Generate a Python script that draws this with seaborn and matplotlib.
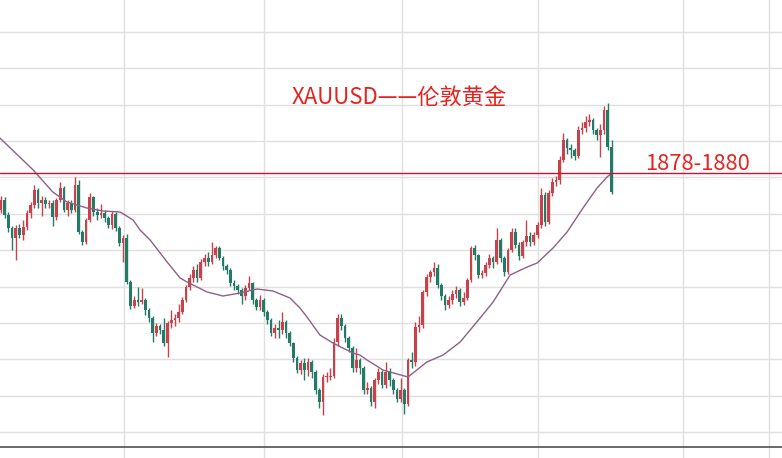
import numpy as np
import pandas as pd
import matplotlib
matplotlib.use("Agg")
import matplotlib.pyplot as plt
import seaborn as sns

# XAUUSD candles (price units)
first_open = 1861
closes = [1866, 1858.5, 1852, 1847, 1852, 1848.5, 1852.5, 1859.5, 1863.5, 1871,
          1864.5, 1866, 1864, 1864.5, 1857.5, 1866, 1872, 1861, 1864.5, 1861,
          1873.5, 1850, 1845, 1856, 1867.5, 1860, 1858.5, 1859.5, 1857, 1853.5,
          1859, 1852, 1844.5, 1847, 1825, 1813, 1816, 1815, 1816, 1811,
          1807, 1799.5, 1803, 1801, 1794.5, 1804.5, 1806, 1807, 1810, 1816,
          1822.5, 1827, 1831, 1827, 1835, 1837, 1835, 1838.5, 1842, 1837,
          1833, 1831, 1824.5, 1823, 1821, 1818, 1822, 1824.5, 1816, 1812.5,
          1816, 1810, 1806, 1799.5, 1802, 1801, 1805, 1799.5, 1794.5, 1787,
          1781, 1784.5, 1781, 1785, 1780, 1771, 1765, 1777.5, 1777.5, 1778,
          1795, 1807, 1803, 1797, 1792, 1782, 1786, 1782, 1771, 1772,
          1765, 1776, 1780, 1773.5, 1780, 1776, 1771, 1766.5, 1771, 1764,
          1786, 1785, 1802.5, 1803.5, 1820, 1827.5, 1830, 1832, 1823.5, 1818,
          1813.5, 1816, 1819, 1821, 1815, 1817, 1826, 1842, 1838.5, 1828.5,
          1829.5, 1833.5, 1837, 1835, 1846, 1837, 1830, 1841, 1850, 1843.5,
          1838, 1845, 1848, 1845, 1848.5, 1853.5, 1868.5, 1855, 1869.5, 1875,
          1876, 1886, 1896, 1892, 1891, 1888, 1901, 1902, 1905, 1906,
          1901, 1898.5, 1901, 1911, 1892.5, 1870]
highs = [1868, 1867.5, 1860, 1853, 1853.5, 1854, 1856, 1861, 1865, 1873.5,
         1872, 1868, 1867.5, 1866, 1866, 1867, 1875, 1873, 1866, 1866,
         1877.5, 1876, 1851, 1857, 1869.5, 1868, 1862, 1864, 1861, 1858,
         1860.5, 1860, 1853, 1848.5, 1849, 1826, 1818, 1822.5, 1822, 1817,
         1812, 1808, 1804.5, 1804, 1807, 1805.5, 1811, 1809, 1814, 1817.5,
         1823.5, 1829, 1833, 1834, 1836.5, 1839, 1840, 1845, 1843, 1843,
         1838, 1834, 1832, 1826, 1824, 1822, 1823.5, 1828, 1825, 1817,
         1818.5, 1817, 1811, 1807, 1804, 1806, 1810, 1806, 1800.5, 1795,
         1788, 1786, 1787, 1787, 1786, 1781, 1772, 1779, 1780, 1782,
         1797, 1809, 1809, 1804, 1798, 1793, 1792, 1787, 1783, 1775,
         1773, 1777, 1782, 1781, 1785, 1782, 1777, 1772, 1777, 1772,
         1787, 1790, 1805, 1808, 1821, 1829, 1831, 1835, 1834, 1824.5,
         1819, 1818, 1821, 1823, 1822, 1820, 1827, 1843, 1843.5, 1839,
         1831, 1835, 1839, 1838, 1852, 1847, 1838, 1842, 1852, 1852,
         1845, 1846, 1856, 1850, 1850, 1855, 1872, 1870, 1871, 1877,
         1878, 1888, 1899.5, 1897, 1894, 1892, 1903, 1905, 1908, 1909,
         1907, 1902, 1904, 1913, 1914.5, 1896]
lows = [1859.5, 1857, 1850, 1841, 1836, 1847, 1846, 1851, 1857, 1862,
        1862, 1858, 1862, 1862, 1853, 1856, 1865, 1860, 1858, 1859.5,
        1860, 1849, 1843.5, 1844, 1855, 1858, 1856, 1857, 1855, 1852,
        1851.5, 1850.5, 1843, 1835, 1824, 1811.5, 1812, 1813, 1814, 1808.5,
        1805, 1795, 1798, 1799, 1793, 1787.5, 1802, 1803, 1805, 1809,
        1815, 1821, 1825, 1825, 1826, 1833, 1833, 1834, 1837, 1836,
        1831, 1829, 1823, 1821, 1819, 1814, 1816, 1821, 1814, 1811,
        1811, 1808, 1804, 1798, 1797, 1797, 1799, 1797, 1793, 1785,
        1779.5, 1779, 1776, 1778, 1777, 1769, 1762, 1758.5, 1775, 1776,
        1777, 1793, 1801, 1795, 1790, 1780, 1780, 1779, 1769, 1769,
        1763, 1762, 1774, 1772, 1772, 1773, 1769, 1765, 1765, 1759,
        1763, 1782, 1783, 1800, 1802, 1818, 1825, 1828, 1822, 1816,
        1811, 1812, 1814, 1817, 1813, 1813.5, 1816, 1825, 1836, 1827,
        1827, 1828, 1832, 1832, 1834, 1835, 1828, 1829, 1840, 1842,
        1836, 1837, 1843, 1843, 1843.5, 1847, 1852, 1853, 1854, 1868,
        1873, 1874, 1885, 1889, 1887, 1886, 1887, 1899, 1900, 1903,
        1899, 1896, 1887.5, 1899, 1891, 1869]

# moving average line read at sample points (candle index, price)
ma_idx = [-0.3, 8.7, 14, 17.8, 23.2, 27.6, 32.2, 35.7, 37.6, 40.3,
          44.9, 48.4, 50.3, 55.7, 60, 64.6, 69.2, 73.5, 78.1, 80.8,
          82.7, 86.2, 89.7, 95.1, 97.0, 98.9, 102.4, 103.2, 110, 115.1,
          119.5, 124.1, 128.6, 133, 137.6, 142.2, 144.9, 149.2, 153, 157.3,
          161.1, 163.8, 165.1]
ma_val = [1897, 1881, 1870, 1865, 1862, 1860.5, 1860, 1856, 1851, 1846,
          1835, 1827, 1825, 1820, 1818, 1819.5, 1821.5, 1820.5, 1817, 1812,
          1807.5, 1798.5, 1794.5, 1789.5, 1788.5, 1786, 1782, 1781, 1777.5, 1785,
          1788.5, 1795, 1805, 1815, 1828.5, 1832.5, 1834.5, 1842, 1850, 1862,
          1872, 1877.5, 1879.5]

level = 1879.5
title = "XAUUSD——伦敦黄金"
level_label = "1878-1880"

opens = [first_open] + closes[:-1]
df = pd.DataFrame({"open": opens, "close": closes, "high": highs, "low": lows})
df["idx"] = np.arange(len(df))
df["up"] = df["close"] >= df["open"]
ma = pd.DataFrame({"idx": ma_idx, "ma": ma_val})

sns.set_style("white")
plt.rcParams['font.family'] = ['Noto Sans CJK SC', 'DejaVu Sans']

red = "#c9424b"
green = "#237a66"

fig = plt.figure(figsize=(7.82, 4.58), dpi=100)
ax = fig.add_axes([0, 0, 1, 1])

# grid
for y in np.arange(1950.15, 1740, -18.2):
    ax.axhline(y, color="#e0e0e0", lw=1, zorder=0)
for x in [33.24, 71.08, 108.38, 145.14, 184.32, 207.57]:
    ax.axvline(x, color="#e0e0e0", lw=1, zorder=0)

colors = np.where(df["up"], red, green)
ax.vlines(df["idx"], df["low"], df["high"], colors=colors, lw=1, zorder=2)
body_lo = np.minimum(df["open"], df["close"])
body_h = np.maximum(np.abs(df["close"] - df["open"]), 0.4)
ax.bar(df["idx"], body_h, bottom=body_lo, width=0.72, color=colors,
       edgecolor="none", zorder=3)

sns.lineplot(data=ma, x="idx", y="ma", ax=ax, color="#8e6088", lw=1.0,
             zorder=4, legend=False)

ax.axhline(level, color="#cf1030", lw=1, zorder=5)
ax.axhline(1742.75, color="#505050", lw=1.2, zorder=5)

ax.text(107.6, 1917, title, color="#e8231f", fontsize=16,
        ha="center", va="center")
ax.text(188.2, 1884, level_label, color="#e8231f", fontsize=15.8,
        ha="center", va="center")

ax.set_xlim(-0.27, 211.08)
ax.set_ylim(1737, 1966)
ax.set_xlabel("")
ax.set_ylabel("")
ax.set_xticks([])
ax.set_yticks([])
for s in ax.spines.values():
    s.set_visible(False)

fig.savefig("out.png", dpi=100)
